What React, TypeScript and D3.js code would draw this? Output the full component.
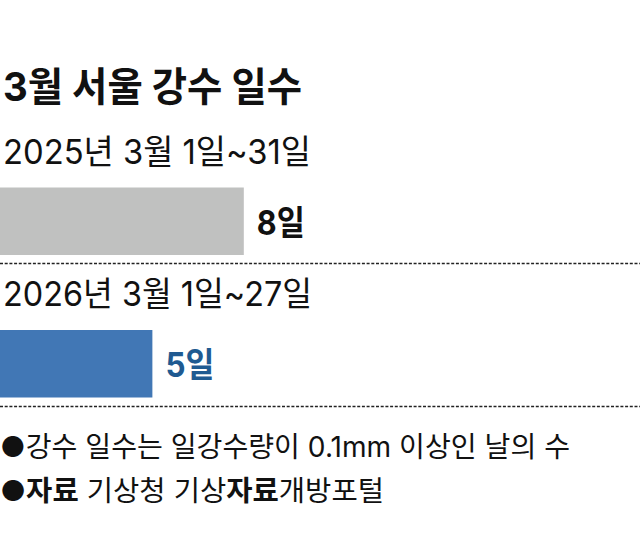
import React from "react";
import * as d3 from "d3";

const title = "3월 서울 강수 일수";
const periods = ["2025년 3월 1일~31일", "2026년 3월 1일~27일"];
const values = [8, 5];
const valueLabels = ["8일", "5일"];
const barColors = ["#c0c1c0", "#4177b5"];
const labelColors = ["#111111", "#1f5a91"];
const note1 = "●강수 일수는 일강수량이 0.1mm 이상인 날의 수";

const W = 640;
const H = 533;
const FONT = "Inter, 'Noto Sans CJK KR', 'Noto Sans', sans-serif";

export default function App() {
  const x = d3.scaleLinear().domain([0, 21]).range([0, W]);
  const rowTop = [187.5, 330];
  const barH = 67.5;
  const subY = [164, 306];
  const subW = [308, 309];
  const labelY = [235, 377];
  const labelW = [48, 49];
  const dashY = [263.5, 406.5];
  return (
    <svg
      width={W}
      height={H}
      style={{ position: "absolute", left: 0, top: 0, background: "#fff" }}
      fontFamily={FONT}
    >
      <text x={3} y={101} fontSize={40} fontWeight={700} fill="#111" textLength={299} lengthAdjust="spacingAndGlyphs">
        {title}
      </text>
      {values.map((v, i) => (
        <g key={i}>
          <text x={3} y={subY[i]} fontSize={34} fill="#111" textLength={subW[i]} lengthAdjust="spacingAndGlyphs">
            {periods[i]}
          </text>
          <rect x={x(0)} y={rowTop[i]} width={x(v) - x(0)} height={barH} fill={barColors[i]} />
          <text
            x={x(v) + 13}
            y={labelY[i]}
            fontSize={34}
            fontWeight={700}
            fill={labelColors[i]}
            textLength={labelW[i]}
            lengthAdjust="spacingAndGlyphs"
          >
            {valueLabels[i]}
          </text>
          <line
            x1={0}
            x2={W}
            y1={dashY[i]}
            y2={dashY[i]}
            stroke="#222"
            strokeWidth={1.6}
            strokeDasharray="3 1.7"
          />
        </g>
      ))}
      <text x={0} y={457} fontSize={28} fill="#111" textLength={570} lengthAdjust="spacingAndGlyphs">
        {note1}
      </text>
      <text x={0} y={501} fontSize={28} fill="#111" textLength={384} lengthAdjust="spacingAndGlyphs">
        <tspan>●</tspan>
        <tspan fontWeight={700}>자료</tspan>
        <tspan> 기상청 기상</tspan>
        <tspan fontWeight={700}>자료</tspan>
        <tspan>개방포털</tspan>
      </text>
    </svg>
  );
}
